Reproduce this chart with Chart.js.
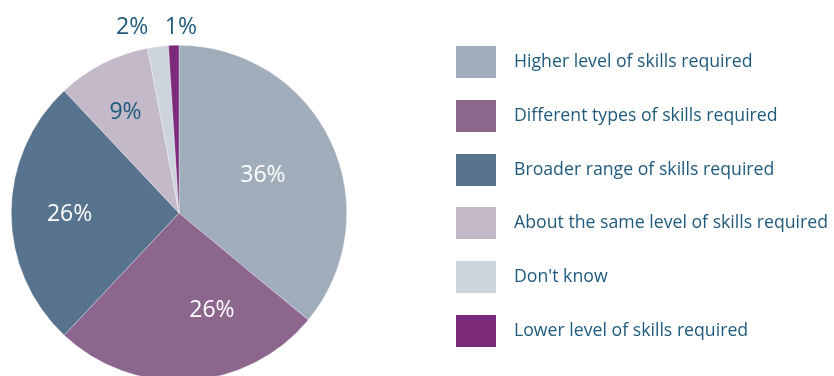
<!DOCTYPE html>
<html>
<head>
<meta charset="utf-8">
<title>Skills required</title>
<script src="https://cdn.jsdelivr.net/npm/chart.js@4/dist/chart.umd.min.js"></script>
<style>
    html, body { margin: 0; padding: 0; background: #fff; overflow: hidden; }
    #wrap { width: 834px; height: 430px; }
</style>
</head>
<body>
<div id="wrap"><canvas id="chart-skills" width="834" height="430"></canvas></div>
<script>
// Share of responses per category (percent)
const CATEGORIES = [
    'Higher level of skills required',
    'Different types of skills required',
    'Broader range of skills required',
    'About the same level of skills required',
    "Don't know",
    'Lower level of skills required'
];
const SHARES = [36, 26, 26, 9, 2, 1];
const SLICE_COLORS = ['#a0adba', '#8c668d', '#58738e', '#c3b9c8', '#cdd4dc', '#7b2b7a'];

const TEXT_BLUE = '#1f5a7c';
const FONT = '"Open Sans", "Noto Sans", sans-serif';

// label placement: fraction of radius, and angle nudge in degrees
const LABEL_RADIUS = [0.55, 0.61, 0.652, 0.686, 1.148, 1.113];
const LABEL_SHIFT = [0.6, -15.2, 0, -0.7, -6.9, 2.4];
const LABEL_COLORS = ['#ffffff', '#ffffff', '#ffffff', TEXT_BLUE, TEXT_BLUE, TEXT_BLUE];

const sliceLabels = {
    id: 'sliceLabels',
    afterDatasetsDraw(chart) {
        const ctx = chart.ctx;
        const arcs = chart.getDatasetMeta(0).data;
        ctx.save();
        ctx.font = '23px ' + FONT;
        ctx.textAlign = 'center';
        ctx.textBaseline = 'middle';
        arcs.forEach((arc, i) => {
            const mid = (arc.startAngle + arc.endAngle) / 2 + LABEL_SHIFT[i] * Math.PI / 180;
            const r = arc.outerRadius * LABEL_RADIUS[i];
            ctx.fillStyle = LABEL_COLORS[i];
            ctx.fillText(SHARES[i] + '%', arc.x + Math.cos(mid) * r, arc.y + Math.sin(mid) * r + 1);
        });
        ctx.restore();
    }
};

const sideLegend = {
    id: 'sideLegend',
    afterDraw(chart) {
        const ctx = chart.ctx;
        const boxX = 456, boxW = 40, boxH = 32, top = 46, step = 53.8;
        ctx.save();
        ctx.font = '17.7px ' + FONT;
        ctx.textBaseline = 'middle';
        ctx.textAlign = 'left';
        CATEGORIES.forEach((label, i) => {
            const y = Math.round(top + i * step);
            ctx.fillStyle = SLICE_COLORS[i];
            ctx.fillRect(boxX, y, boxW, boxH);
            ctx.fillStyle = TEXT_BLUE;
            ctx.fillText(label, 514, y + boxH / 2);
        });
        ctx.restore();
    }
};

new Chart(document.getElementById('chart-skills'), {
    type: 'pie',
    data: {
        labels: CATEGORIES,
        datasets: [{
            data: SHARES,
            backgroundColor: SLICE_COLORS,
            borderColor: 'rgba(255,255,255,0.6)',
            borderWidth: 0.5
        }]
    },
    options: {
        responsive: false,
        animation: false,
        devicePixelRatio: 1,
        layout: { padding: { left: 11, top: 45, right: 487, bottom: 49 } },
        plugins: {
            legend: { display: false },
            tooltip: { enabled: false }
        }
    },
    plugins: [sliceLabels, sideLegend]
});
</script>
</body>
</html>
